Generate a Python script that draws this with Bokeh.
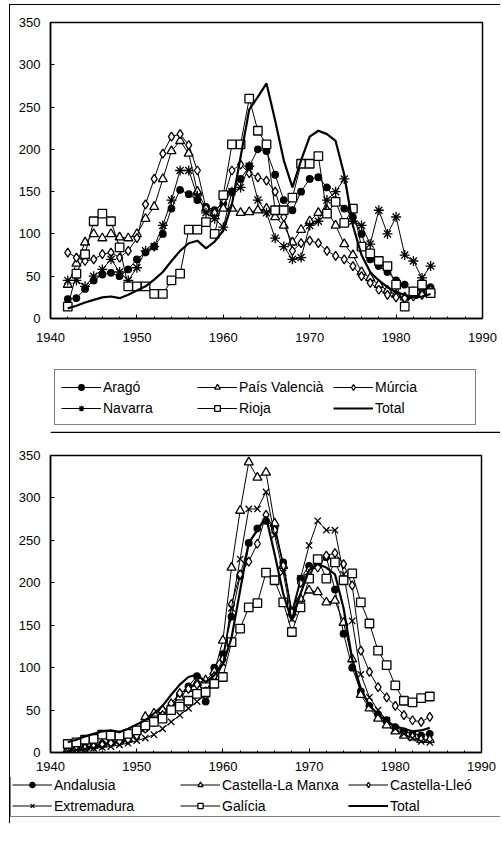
from bokeh.plotting import figure
from bokeh.models import Legend, LegendItem, Range1d, SingleIntervalTicker, Span
from bokeh.layouts import column
from bokeh.embed import file_html
from bokeh.resources import INLINE

years = list(range(1942, 1985))

total = [12, 15, 19, 22, 25, 26, 24, 28, 33, 38,
         46, 55, 68, 80, 89, 92, 83, 91, 104, 135,
         191, 247, 262, 278, 234, 187, 155, 187, 215, 222,
         218, 210, 170, 110, 75, 55, 45, 37, 31, 28,
         25, 26, 29]

# top panel
arago = [23, 24, 35, 45, 52, 54, 50, 58, 70, 78,
         85, 100, 130, 152, 147, 140, 132, 128, 136, 150,
         165, 180, 200, 198, 170, 140, 128, 150, 165, 167,
         155, 140, 130, 120, 100, 70, 62, 55, 45, 40,
         33, 35, 37]
pais_valencia = [40, 65, 90, 100, 95, 100, 96, 95, 100, 118,
                 132, 165, 198, 210, 195, 150, 130, 125, 130, 130,
                 125, 126, 128, 130, 120, 110, 90, 105, 115, 125,
                 128, 110, 88, 75, 55, 48, 40, 33, 28, 25,
                 27, 30, 33]
murcia = [78, 72, 68, 70, 76, 78, 72, 80, 95, 135,
          165, 195, 215, 218, 205, 175, 130, 125, 140, 175,
          182, 172, 167, 163, 150, 120, 80, 89, 92, 89,
          80, 74, 70, 62, 50, 42, 34, 28, 25, 24,
          26, 28, 30]
navarra = [45, 45, 38, 50, 58, 70, 55, 45, 60, 80,
           85, 110, 140, 175, 175, 145, 125, 118, 108, 150,
           155, 180, 140, 125, 95, 85, 70, 72, 110, 115,
           140, 150, 165, 115, 110, 88, 128, 100, 120, 75,
           68, 48, 62]
rioja = [14, 53, 76, 115, 124, 115, 84, 38, 38, 38,
         29, 29, 45, 53, 105, 105, 114, 100, 146, 206,
         206, 260, 222, 206, 128, 128, 143, 183, 183, 192,
         124, 138, 113, 130, 85, 77, 68, 62, 40, 14,
         32, 40, 30]

# bottom panel
andalusia = [3, 4, 6, 8, 10, 12, 14, 17, 22, 28,
             35, 45, 55, 68, 78, 90, 60, 100, 116, 160,
             208, 247, 264, 273, 265, 224, 167, 205, 220, 222,
             230, 192, 140, 100, 72, 55, 45, 38, 30, 25,
             22, 20, 22]
castella_la_manxa = [4, 5, 6, 8, 10, 12, 14, 16, 25, 42,
                     46, 50, 55, 65, 75, 82, 85, 95, 132, 218,
                     285, 342, 324, 330, 270, 220, 165, 181, 191, 189,
                     177, 179, 153, 110, 68, 52, 40, 32, 25, 20,
                     18, 15, 15]
castella_lleo = [3, 4, 5, 7, 9, 11, 13, 15, 20, 28,
                 36, 44, 58, 70, 75, 80, 72, 90, 110, 175,
                 210, 225, 246, 280, 262, 220, 165, 200, 215, 218,
                 232, 235, 222, 197, 120, 95, 77, 65, 55, 44,
                 38, 36, 42]
extremadura = [2, 3, 4, 5, 6, 7, 9, 11, 14, 17,
               21, 28, 36, 44, 52, 60, 68, 82, 105, 170,
               228, 287, 287, 307, 256, 212, 157, 205, 244, 273,
               262, 262, 210, 155, 92, 65, 50, 38, 28, 22,
               17, 13, 12]
galicia = [10, 12, 15, 16, 21, 20, 20, 22, 26, 32,
           36, 40, 50, 54, 61, 69, 71, 81, 89, 130,
           146, 171, 176, 212, 203, 177, 142, 171, 205, 228,
           205, 224, 203, 211, 177, 152, 120, 103, 79, 61,
           59, 64, 66]

top_series = [("Aragó", arago, "circle"), ("País Valencià", pais_valencia, "triangle"),
              ("Múrcia", murcia, "diamond"), ("Navarra", navarra, "asterisk"),
              ("Rioja", rioja, "square"), ("Total", total, None)]
bottom_series = [("Andalusia", andalusia, "circle"), ("Castella-La Manxa", castella_la_manxa, "triangle"),
                 ("Castella-Lleó", castella_lleo, "diamond"), ("Extremadura", extremadura, "x"),
                 ("Galícia", galicia, "square"), ("Total", total, None)]

FONT = "Liberation Sans"
SIZES = {"circle": 6.5, "triangle": 9, "diamond": 9, "asterisk": 10, "x": 9, "square": 8.5}
W = 490


def add_series(p, series):
    items = []
    for name, vals, marker in series:
        if marker is None:
            r = p.line(years, vals, line_color="black", line_width=2.2)
            items.append(LegendItem(label=name, renderers=[r]))
        else:
            r1 = p.line(years, vals, line_color="black", line_width=1)
            fill = "black" if marker == "circle" else "white"
            r2 = p.scatter(years, vals, marker=marker, size=SIZES[marker],
                           fill_color=fill, line_color="black", line_width=1.3)
            items.append(LegendItem(label=name, renderers=[r1, r2]))
    return items


def chart(series, left, frame_w, top, frame_h, bottom, std_x):
    p = figure(width=W, height=top + frame_h + bottom,
               frame_width=frame_w, frame_height=frame_h,
               min_border_left=left, min_border_right=W - left - frame_w,
               min_border_top=top, min_border_bottom=bottom,
               x_range=Range1d(1940, 1990), y_range=Range1d(0, 350),
               output_backend="svg", toolbar_location=None)
    p.grid.visible = False
    p.outline_line_color = "black"
    p.outline_line_width = 1.5
    p.xaxis.ticker = SingleIntervalTicker(interval=10, num_minor_ticks=5)
    p.yaxis.ticker = SingleIntervalTicker(interval=50, num_minor_ticks=0)
    for ax in (p.xaxis, p.yaxis):
        ax.major_tick_in = 4
        ax.major_tick_out = 0
        ax.minor_tick_in = 2
        ax.minor_tick_out = 0
        ax.axis_line_color = "black"
        ax.axis_line_width = 1.5
        ax.major_label_text_font = FONT
        ax.major_label_text_font_size = "13px"
        ax.major_label_text_color = "black"
    p.xaxis.major_label_standoff = std_x
    p.yaxis.major_label_standoff = 10
    add_series(p, series)
    return p


def legend_fig(series, height, loc, gh, lh, lw, sp, pad, separator):
    # legend-only strip: same glyphs, drawn outside the visible range
    p = figure(width=W, height=height, frame_width=W, frame_height=height,
               min_border=0, x_range=Range1d(0, W), y_range=Range1d(0, height),
               x_axis_type=None, y_axis_type=None,
               output_backend="svg", toolbar_location=None)
    p.grid.visible = False
    p.outline_line_color = None
    items = add_series(p, series)
    legend = Legend(items=items, location=loc, orientation="horizontal", ncols=3,
                    glyph_width=40, glyph_height=gh, label_height=lh,
                    label_width=lw, label_standoff=2, spacing=sp,
                    padding=pad, margin=0,
                    label_text_font=FONT, label_text_font_size="14px",
                    label_text_color="black",
                    border_line_color="black", border_line_width=1.5,
                    background_fill_color="white", background_fill_alpha=1)
    p.add_layout(legend, "center")
    if separator:
        p.add_layout(Span(location=1, dimension="width", line_color="black", line_width=1.5))
    return p


top = chart(top_series, 39, 432, 17, 296, 30, 14)
top_leg = legend_fig(top_series, 85, (44, 8), 14, 21, 94, 0, 6, True)
bottom = chart(bottom_series, 40, 431, 22, 297, 25, 9)
bottom_leg = legend_fig(bottom_series, 46, (0, 6), 13, 19, 124, 2, 1, False)

layout = column(top, top_leg, bottom, bottom_leg, spacing=0,
                styles={"margin-left": "9px", "margin-top": "4px",
                        "border-left": "1.5px solid black", "border-top": "1.5px solid black"})
open("out.html", "w").write(file_html(layout, INLINE))
